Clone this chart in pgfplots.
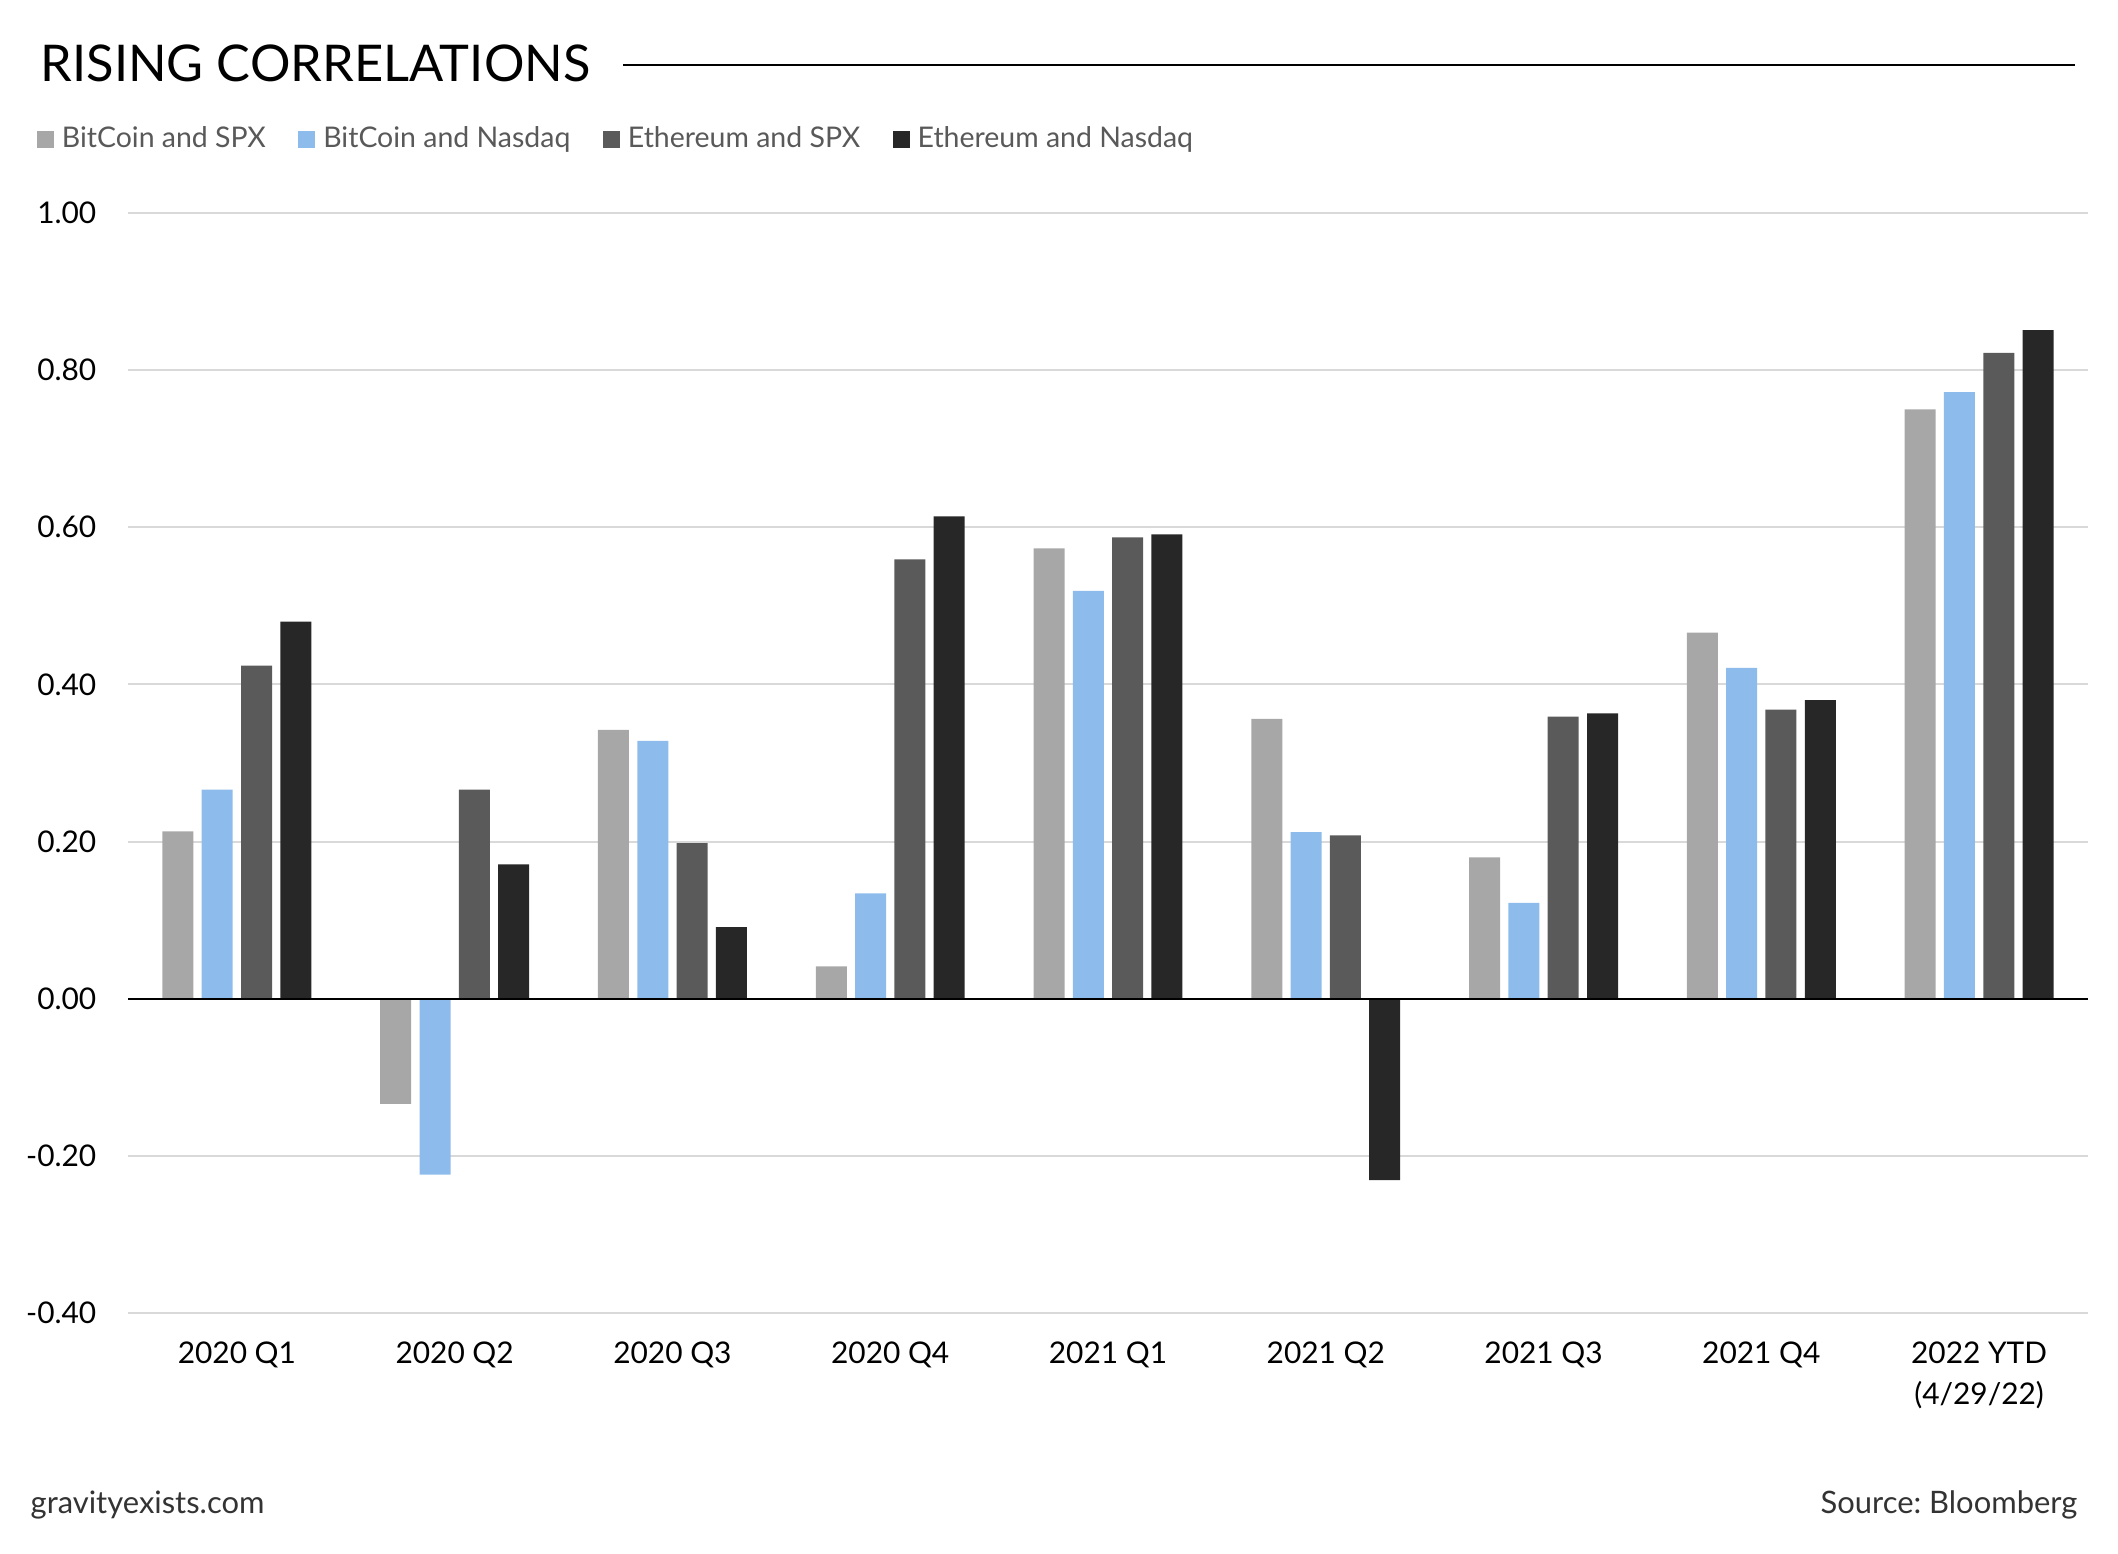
\documentclass[border=0pt]{standalone}
\usepackage{fontspec}
\setmainfont{Lato}
\usepackage{pgfplots}
\pgfplotsset{compat=1.18}
\usepackage{pgfplotstable}
\frenchspacing

\definecolor{cBtcSpx}{HTML}{A7A7A7}
\definecolor{cBtcNdq}{HTML}{8DBBEB}
\definecolor{cEthSpx}{HTML}{5A5A5A}
\definecolor{cEthNdq}{HTML}{272727}
\definecolor{gridgray}{HTML}{D9D9D9}
\definecolor{legtext}{HTML}{595959}
\definecolor{foot}{HTML}{333333}

% x: 0..8 = 2020 Q1 ... 2022 YTD
\pgfplotstableread{
x  btcspx  btcndq  ethspx  ethndq
0   0.213   0.266   0.424   0.480
1  -0.134  -0.224   0.266   0.171
2   0.342   0.328   0.198   0.091
3   0.041   0.134   0.559   0.614
4   0.573   0.519   0.587   0.591
5   0.356   0.212   0.208  -0.231
6   0.180   0.122   0.359   0.363
7   0.466   0.421   0.368   0.380
8   0.750   0.772   0.822   0.851
}\corr

\begin{document}
\begin{tikzpicture}
\path[use as bounding box] (0,0) rectangle (211.8mm,155.4mm);

\node[anchor=base west, inner sep=0pt, font=\fontsize{14.4pt}{16pt}\selectfont] at (4.0mm,147.2mm) {RISING CORRELATIONS};
\draw[line width=0.25mm] (62.3mm,148.9mm) -- (207.5mm,148.9mm);

\begin{axis}[
    at={(12.8mm,24.1mm)}, anchor=south west,
    scale only axis, width=196mm, height=110mm,
    ybar=0.83mm, bar width=3.1mm,
    xmin=-0.5, xmax=8.5, ymin=-0.4, ymax=1.0,
    xtick={0,...,8},
    xticklabels={2020 Q1,2020 Q2,2020 Q3,2020 Q4,2021 Q1,2021 Q2,2021 Q3,2021 Q4,{2022 YTD\\(4/29/22)}},
    ytick={-0.4,-0.2,0,0.2,0.4,0.6,0.8,1.0},
    /pgf/number format/fixed, /pgf/number format/fixed zerofill,
    /pgf/number format/precision=2, /pgf/number format/assume math mode=true,
    yticklabel style={anchor=east, inner sep=0pt, xshift=-3.1mm},
    xticklabel style={anchor=north, inner sep=0pt, yshift=-2.8mm, align=center},
    ticklabel style={font=\fontsize{8.5pt}{11.6pt}\selectfont},
    major tick length=0pt,
    axis line style={draw=none},
    ymajorgrids, grid style={gridgray, line width=0.2mm},
    legend style={draw=none, fill=none, at={(axis description cs:-0.0465,1.0668)}, anchor=west,
        inner sep=0pt, outer sep=0pt,
        legend columns=4, font=\fontsize{8.1pt}{9pt}\selectfont\color{legtext},
        /tikz/every even column/.append style={column sep=2.45mm},
        nodes={inner xsep=0.8mm}},
    legend image code/.code={\path[#1,draw=none] (0mm,-0.85mm) rectangle (1.7mm,0.85mm);},
]
\addplot[fill=cBtcSpx, draw=none] table[x=x, y=btcspx] {\corr};
\addplot[fill=cBtcNdq, draw=none] table[x=x, y=btcndq] {\corr};
\addplot[fill=cEthSpx, draw=none] table[x=x, y=ethspx] {\corr};
\addplot[fill=cEthNdq, draw=none] table[x=x, y=ethndq] {\corr};
\legend{BitCoin and SPX, BitCoin and Nasdaq, Ethereum and SPX, Ethereum and Nasdaq}
\draw[black, line width=0.2mm] (axis cs:-0.5,0) -- (axis cs:8.5,0);
\end{axis}

\node[anchor=base west, inner sep=0pt, text=foot, font=\fontsize{8.8pt}{10pt}\selectfont] at (3.0mm,4.0mm) {gravityexists.com};
\node[anchor=base east, inner sep=0pt, text=foot, font=\fontsize{8.8pt}{10pt}\selectfont] at (207.8mm,4.0mm) {Source: Bloomberg};
\end{tikzpicture}
\end{document}
